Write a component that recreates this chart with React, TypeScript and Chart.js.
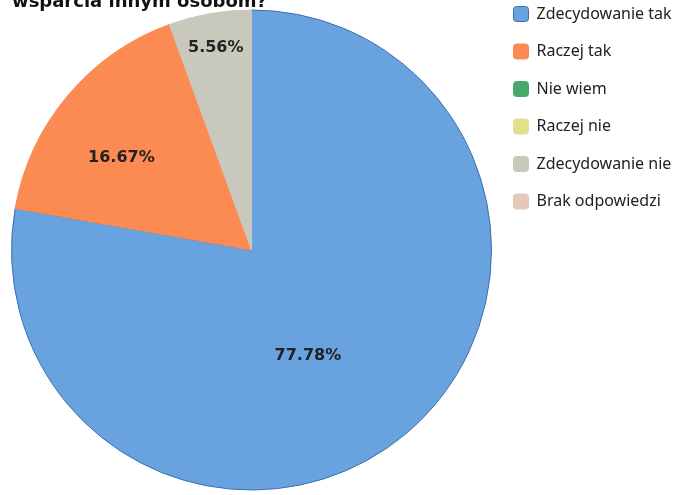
import React, { useEffect, useRef } from "react";
import { Chart, registerables } from "chart.js";

Chart.register(...registerables);

const titleLine = "wsparcia innym osobom?";
const categories = [
  "Zdecydowanie tak",
  "Raczej tak",
  "Nie wiem",
  "Raczej nie",
  "Zdecydowanie nie",
  "Brak odpowiedzi",
];
const percentages = [77.78, 16.67, 0, 0, 5.56, 0];
const sliceColors = ["#68a3e0", "#fb8b53", "#48a868", "#e2e08a", "#c8c9bc", "#e6c8b8"];
const sliceBorders = ["#3d6fae", "#fb8b53", "#48a868", "#e2e08a", "#c8c9bc", "#e6c8b8"];
const labelAngleNudgeDeg = [12, -4.6, 0, 0, 0, 0];
const labelRadiusFrac = [0.5, 0.665, 0.6, 0.6, 0.857, 0.6];

const SHIFT = 20;
const W = 683;
const H = 536;
const PIE_LEFT = 11;
const PIE_RIGHT = 492;
const LEGEND_SIZE = 16;
const LEGEND_FAMILY = "'Noto Sans', sans-serif";
const LEGEND_PAD = 21.5;
const BOX = 15;

export default function App() {
  const ref = useRef<HTMLCanvasElement | null>(null);

  useEffect(() => {
    const canvas = ref.current;
    if (!canvas) return;

    const mctx = document.createElement("canvas").getContext("2d")!;
    mctx.font = `${LEGEND_SIZE}px ${LEGEND_FAMILY}`;
    const textW = Math.max(...categories.map((c) => mctx.measureText(c).width));
    const natural = LEGEND_PAD + BOX + LEGEND_SIZE / 2 + textW + 10;
    const avail = W - PIE_RIGHT;
    const padRight = Math.max(0, avail - natural);
    const legendMax = avail - padRight;

    const titlePlugin = {
      id: "cutTitle",
      afterDraw(chart: any) {
        const ctx = chart.ctx;
        ctx.save();
        ctx.font = "bold 18px 'DejaVu Sans', sans-serif";
        ctx.fillStyle = "#111";
        ctx.textAlign = "left";
        ctx.textBaseline = "alphabetic";
        ctx.fillText(titleLine, 12, SHIFT + 6.5);
        ctx.restore();
      },
    };

    const labelPlugin = {
      id: "sliceLabels",
      afterDatasetsDraw(chart: any) {
        const ctx = chart.ctx;
        const meta = chart.getDatasetMeta(0);
        ctx.save();
        ctx.font = "bold 16px 'DejaVu Sans', sans-serif";
        ctx.fillStyle = "#222";
        ctx.textAlign = "center";
        ctx.textBaseline = "middle";
        meta.data.forEach((arc: any, i: number) => {
          const v = percentages[i];
          if (!v) return;
          const { startAngle, endAngle, outerRadius, x, y } = arc.getProps(
            ["startAngle", "endAngle", "outerRadius", "x", "y"],
            true
          );
          const mid = (startAngle + endAngle) / 2 + (labelAngleNudgeDeg[i] * Math.PI) / 180;
          const r = outerRadius * labelRadiusFrac[i];
          ctx.fillText(`${v.toFixed(2)}%`, x + Math.cos(mid) * r, y + Math.sin(mid) * r);
        });
        ctx.restore();
      },
    };

    const chart = new Chart(canvas, {
      type: "pie",
      data: {
        labels: categories,
        datasets: [
          {
            data: percentages,
            backgroundColor: sliceColors,
            borderColor: sliceBorders,
            borderWidth: 1,
          },
        ],
      },
      options: {
        responsive: false,
        animation: false,
        layout: {
          padding: { left: PIE_LEFT, top: 4.5, right: padRight, bottom: 0.5 },
        },
        plugins: {
          legend: {
            position: "right",
            align: "start",
            maxWidth: legendMax,
            labels: {
              boxWidth: BOX,
              boxHeight: BOX,
              padding: LEGEND_PAD,
              color: "#222",
              useBorderRadius: true,
              borderRadius: 3,
              font: { family: LEGEND_FAMILY, size: LEGEND_SIZE },
            },
          },
          tooltip: { enabled: false },
          title: { display: false },
        },
      },
      plugins: [labelPlugin, titlePlugin],
    } as any);

    return () => chart.destroy();
  }, []);

  return (
    <div
      style={{
        position: "fixed",
        left: 0,
        top: 0,
        width: W,
        height: 495,
        overflow: "hidden",
        background: "#fff",
      }}
    >
      <canvas
        ref={ref}
        width={W}
        height={H}
        style={{ position: "absolute", left: 0, top: -SHIFT, display: "block" }}
      />
    </div>
  );
}
